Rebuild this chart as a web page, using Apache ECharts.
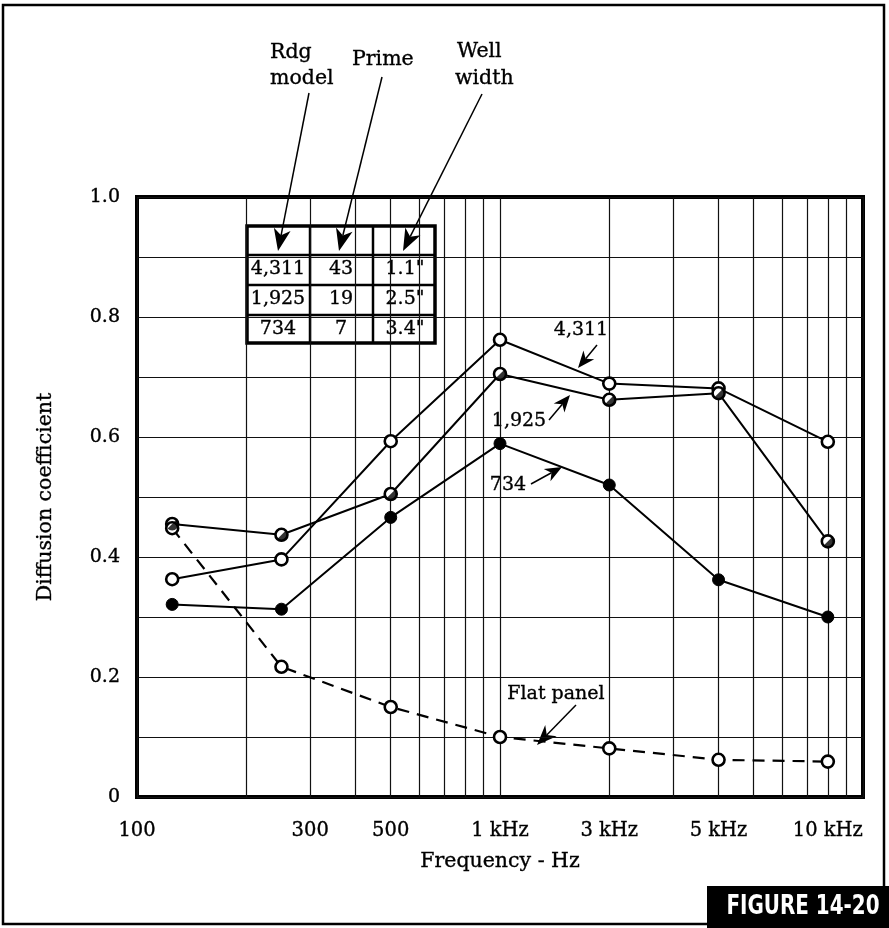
<!DOCTYPE html>
<html>
<head>
<meta charset="utf-8">
<script src="https://cdn.jsdelivr.net/npm/echarts@6/dist/echarts.min.js"></script>
<style>
  html, body { margin: 0; padding: 0; background: #fff; }
  #chart { width: 889px; height: 928px; }
</style>
</head>
<body>
<div id="chart"></div>
<script>
// octave band centres (Hz) and diffusion coefficients
const freqs = [125, 250, 500, 1000, 2000, 4000, 8000];
const rdg4311 = [0.363, 0.396, 0.593, 0.762, 0.689, 0.681, 0.592];
const rdg1925 = [0.455, 0.437, 0.505, 0.705, 0.662, 0.673, 0.426];
const rdg734 = [0.321, 0.313, 0.466, 0.589, 0.520, 0.362, 0.300];
const flatPanel = [0.448, 0.217, 0.150, 0.100, 0.081, 0.062, 0.059];

// x labels as printed on the figure
const tickFreqs = [100, 300, 500, 1000, 2000, 4000, 8000];
const tickLabels = ['100', '300', '500', '1 kHz', '3 kHz', '5 kHz', '10 kHz'];
const gridFreqs = [100, 200, 300, 400, 500, 600, 700, 800, 900,
  1000, 2000, 3000, 4000, 5000, 6000, 7000, 8000, 9000, 10000];
const yTicks = [0, 0.2, 0.4, 0.6, 0.8, 1.0];

const tableRows = [
  ['4,311', '43', '1.1"'],
  ['1,925', '19', '2.5"'],
  ['734', '7', '3.4"'],
];

const SERIF = '"DejaVu Serif", "Liberation Serif", serif';
const ink = { color: '#000', fontFamily: SERIF, textBorderColor: '#000', textBorderWidth: 0.35 };

const pts = (vals) => freqs.map((f, i) => [Math.log10(f), vals[i]]);
const tickIdx = (v) => tickFreqs.findIndex((f) => Math.abs(Math.log10(f) - v) < 1e-6);

function arrow(x0, y0, x1, y1, len, half, notch) {
  const d = Math.hypot(x1 - x0, y1 - y0);
  const ux = (x1 - x0) / d, uy = (y1 - y0) / d;
  const nx = -uy, ny = ux;
  const bx = x1 - ux * len, by = y1 - uy * len;
  const mx = x1 - ux * (len - notch), my = y1 - uy * (len - notch);
  return [
    { type: 'line', shape: { x1: x0, y1: y0, x2: mx, y2: my }, style: { stroke: '#000', lineWidth: 1.5 } },
    {
      type: 'polygon',
      shape: { points: [[x1, y1], [bx + nx * half, by + ny * half], [mx, my], [bx - nx * half, by - ny * half]] },
      style: { fill: '#000' },
    },
  ];
}

function text(str, x, y, align, size) {
  return {
    type: 'text', x, y,
    style: {
      text: str, font: (size || 19) + 'px ' + SERIF, fill: '#000', stroke: '#000', lineWidth: 0.35,
      align: align || 'center', verticalAlign: 'middle',
    },
  };
}

// table in the upper left
const colX = [278, 341, 405];
const rowY = [269, 299, 329];
const tableEls = [
  { type: 'rect', shape: { x: 247, y: 226, width: 188, height: 117 }, style: { fill: '#fff', stroke: '#000', lineWidth: 3.5 } },
];
[255, 285, 315].forEach((y) => tableEls.push({ type: 'line', shape: { x1: 247, y1: y, x2: 435, y2: y }, style: { stroke: '#000', lineWidth: 2.5 } }));
[310, 373].forEach((x) => tableEls.push({ type: 'line', shape: { x1: x, y1: 226, x2: x, y2: 343 }, style: { stroke: '#000', lineWidth: 2.5 } }));
tableRows.forEach((row, r) => row.forEach((cell, c) => tableEls.push(text(cell, colX[c], rowY[r]))));

const graphics = [
  { type: 'rect', z: -10, shape: { x: 3, y: 5, width: 881, height: 919 }, style: { fill: 'none', stroke: '#000', lineWidth: 2.5 } },
  { type: 'rect', shape: { x: 707, y: 886, width: 182, height: 42 }, style: { fill: '#000' } },
  {
    type: 'text', x: 803, y: 907, scaleX: 0.82,
    style: {
      text: 'FIGURE 14-20', fill: '#fff', align: 'center', verticalAlign: 'middle',
      font: 'bold 27px "Liberation Sans Narrow", "DejaVu Sans Condensed", sans-serif',
    },
  },
  text('Rdg', 270, 53, 'left', 20.5),
  text('model', 270, 79, 'left', 20.5),
  text('Prime', 352, 60, 'left', 20.5),
  text('Well', 457, 52, 'left', 20.5),
  text('width', 455, 79, 'left', 20.5),
  ...tableEls,
  ...arrow(309, 93, 278, 251, 22, 8.5, 6),
  ...arrow(382, 77, 339, 251, 22, 8.5, 6),
  ...arrow(482, 94, 403, 251, 22, 8.5, 6),
  text('4,311', 581, 330),
  ...arrow(597, 345, 578, 368, 17, 7, 5),
  text('1,925', 519, 421),
  ...arrow(549, 420, 570, 395, 17, 7, 5),
  text('734', 508, 485),
  ...arrow(531, 484, 562, 467, 17, 7, 5),
  text('Flat panel', 556, 694),
  ...arrow(576, 705, 537, 745, 20, 8, 6),
];

const openMark = { color: '#fff', borderColor: '#000', borderWidth: 2.6 };
const lineBase = {
  type: 'line', symbol: 'circle', symbolSize: 12, z: 3,
  lineStyle: { color: '#000', width: 2 },
};

const chart = echarts.init(document.getElementById('chart'));
chart.setOption({
  animation: false,
  backgroundColor: '#fff',
  grid: { left: 137, top: 197, right: 26, bottom: 131, show: true, borderColor: '#000', borderWidth: 4 },
  xAxis: {
    type: 'value', min: 2, max: 4,
    axisLine: { show: false },
    axisTick: { show: false, customValues: gridFreqs.map(Math.log10) },
    splitLine: { show: true, lineStyle: { color: '#111', width: 1.2 } },
    axisLabel: {
      customValues: tickFreqs.map(Math.log10),
      formatter: (v) => tickLabels[tickIdx(v)],
      margin: 24, fontSize: 19.5, ...ink,
    },
    name: 'Frequency - Hz', nameLocation: 'middle', nameGap: 54,
    nameTextStyle: { fontSize: 20.5, ...ink },
  },
  yAxis: {
    type: 'value', min: 0, max: 1, interval: 0.1,
    axisLine: { show: false },
    axisTick: { show: false },
    splitLine: { show: true, lineStyle: { color: '#111', width: 1.2 } },
    axisLabel: {
      customValues: yTicks,
      formatter: (v) => (v === 0 ? '0' : v.toFixed(1)),
      margin: 17, fontSize: 19, ...ink,
    },
    name: 'Diffusion coefficient', nameLocation: 'middle', nameGap: 81, nameRotate: 90,
    nameTextStyle: { fontSize: 20.5, ...ink },
  },
  graphic: graphics,
  series: [
    { ...lineBase, name: '4,311', data: pts(rdg4311), itemStyle: openMark },
    { ...lineBase, name: '1,925', data: pts(rdg1925), itemStyle: openMark },
    {
      // dark half of the 1,925 markers
      type: 'scatter', name: '1,925 fill', data: pts(rdg1925), z: 4, silent: true,
      symbol: 'path://M -10 0 A 10 10 0 0 0 10 0 Z', symbolSize: [13, 13], symbolKeepAspect: true,
      symbolRotate: 45, symbolOffset: [2.3, 2.3], itemStyle: { color: '#000' },
    },
    { ...lineBase, name: '734', data: pts(rdg734), itemStyle: { color: '#000', borderColor: '#000', borderWidth: 1 } },
    {
      ...lineBase, name: 'Flat panel', data: pts(flatPanel), itemStyle: openMark,
      lineStyle: { color: '#000', width: 2.2, type: [12, 8] },
    },
  ],
});
</script>
</body>
</html>
